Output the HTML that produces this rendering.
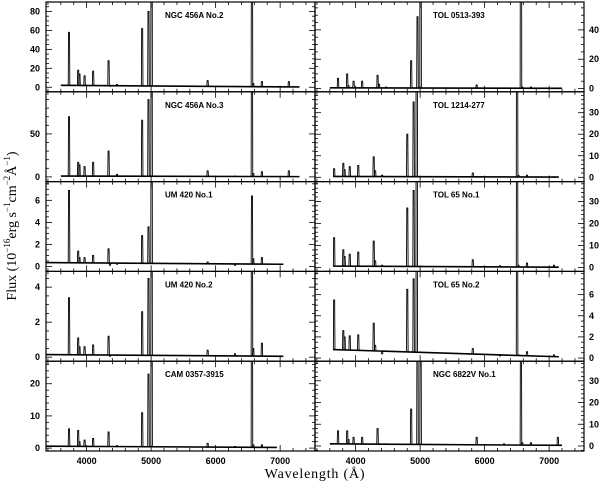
<!DOCTYPE html>
<html><head><meta charset="utf-8"><style>
body{margin:0;background:#fff}
svg{display:block}
.tl{font-family:"Liberation Sans",sans-serif;font-weight:bold;font-size:9px;fill:#000}
.tt{font-family:"Liberation Sans",sans-serif;font-weight:bold;font-size:8px;fill:#000}
.ax{font-family:"Liberation Serif",serif;font-size:14px;fill:#000}
</style></head><body>
<svg id="chart" width="600" height="486" viewBox="0 0 600 486" xmlns="http://www.w3.org/2000/svg">
<text class="ax" x="315" y="478" text-anchor="middle" letter-spacing="0.8">Wavelength (Å)</text>
<text class="ax" transform="translate(16,226) rotate(-90)" text-anchor="middle">Flux (10<tspan font-size="9" dy="-6">−16</tspan><tspan dy="6">erg s</tspan><tspan font-size="9" dy="-6">−1</tspan><tspan dy="6">cm</tspan><tspan font-size="9" dy="-6">−2</tspan><tspan dy="6">Å</tspan><tspan font-size="9" dy="-6">−1</tspan><tspan dy="6">)</tspan></text>
</svg>
<script>
const lineWaves=[3727,3869,3889,3968,4101,4340,4363,4471,4861,4959,5007,5876,6300,6563,6584,6717,7135];
const panelNames=["NGC 456A No.2","NGC 456A No.3","UM 420 No.1","UM 420 No.2","CAM 0357-3915","TOL 0513-393","TOL 1214-277","TOL 65 No.1","TOL 65 No.2","NGC 6822V No.1"];
const yMins=[-4.8,-5.5,-0.45,-0.23,-0.9,-2.2,-2,-1.8,-0.3,-2.3];
const yMaxs=[90,99,7.7,4.9,27,59,39.7,39,8.2,39];
const yTicks=[[0,20,40,60,80],[0,50],[0,2,4,6],[0,2,4],[0,10,20],[0,20,40],[0,10,20,30],[0,10,20,30],[0,2,4,6],[0,10,20,30]];
const yMinor=[5,10,0.5,0.5,2,5,2,2,0.5,2];
const shifts=[0,0,0,0,0,0,-60,-60,-60,0];
const wStart=[3600,3600,3370,3370,3370,3600,3650,3650,3650,3600];
const wEnd=[7300,7300,7050,7050,6950,7200,7150,7150,7150,7200];
const contStart=[2,1,0.35,0.15,0.6,0.5,0.4,0.6,0.8,1];
const contEnd=[0.3,0.3,0.2,0.05,0.2,0.2,0.1,0.1,0.12,0.3];
const h=[
[58,18,14,12,17,28,1,3,62,80,200,7,1,200,4,6,6],
[70,17,14,12,17,30,1,3,66,90,200,7,1,200,4,6,7],
[6.9,1.4,0.8,0.8,1.0,1.6,0.1,0.2,2.8,3.6,20,0.4,0.1,6.4,0.7,0.8,0.1],
[3.4,1.1,0.6,0.6,0.7,1.2,0.05,0.1,2.6,4.5,10,0.4,0.2,10,0.5,0.8,0.1],
[6,5.5,2,2.5,3,5,0.5,0.8,11,23,60,1.5,0.5,60,1,1,0.3],
[7,10,2,5,5,9,3,1,19,49,200,2.5,0.5,200,1,1,0.5],
[4,6.5,3.5,5,5.5,9.5,3,1,20,35,100,2,0.3,100,1,1,0.3],
[13.5,8,5,6,7,12,3,1,27,35,100,3.5,0.8,100,1,2,1],
[5.5,2.6,2,2.1,2.2,3.3,1.2,0.4,6.5,7.5,20,0.9,0.2,20,0.3,0.6,0.3],
[7,7,3,4,4,8,1,1,17,60,60,4,1,60,1.5,1.5,4]];
const svg=document.getElementById('chart');
const NS='http://www.w3.org/2000/svg';
const W0=3370,SC=0.0645,PW=269,PH=89.8,TOP=2;
function mk(t,a,p){const e=document.createElementNS(NS,t);for(const k in a)e.setAttribute(k,a[k]);(p||svg).appendChild(e);return e;}
const defs=mk('defs',{});
for(let i=0;i<10;i++){
 const col=i<5?0:1,row=i%5;
 const L=col?315:46,T=TOP+row*PH,B=T+PH;
 const xs=w=>L+(w-W0)*SC;
 const ys=v=>B-(v-yMins[i])/(yMaxs[i]-yMins[i])*PH;
 const cp=mk('clipPath',{id:'c'+i},defs);mk('rect',{x:L,y:T,width:PW,height:PH},cp);
 const g=mk('g',{'clip-path':'url(#c'+i+')'});
 
 
 const cont=w=>contStart[i]+(contEnd[i]-contStart[i])*(w-wStart[i])/(wEnd[i]-wStart[i]);
 const cl=mk('line',{x1:xs(wStart[i]),y1:ys(cont(wStart[i])),x2:xs(wEnd[i]),y2:ys(cont(wEnd[i])),stroke:'#000','stroke-width':1.6},g);
 
 
 lineWaves.forEach((w,j)=>{const ww=w+shifts[i];if(ww<wStart[i]||ww>wEnd[i])return;
  const x=xs(ww),y0=ys(cont(ww)),y1=ys(h[i][j]);
  const p=mk('path',{d:`M${x-0.8},${y0}L${x-0.5},${y1}L${x+0.5},${y1}L${x+0.8},${y0}`,fill:'none',stroke:'#000','stroke-width':0.9},g);
  
  });
 const fr=mk('rect',{x:L,y:T,width:PW,height:PH,fill:'none',stroke:'#000','stroke-width':1.2});
 
 
 for(let w=3400;w<=7500;w+=200){const x=xs(w);if(x<L||x>L+PW)continue;const len=w%1000===0?6:3;
  mk('line',{x1:x,y1:B,x2:x,y2:B-len,stroke:'#000','stroke-width':0.8});mk('line',{x1:x,y1:T,x2:x,y2:T+len,stroke:'#000','stroke-width':0.8});
  if(row===4&&w%1000===0){const t=mk('text',{x:x,y:B+13,'text-anchor':'middle',class:'tl'});t.textContent=w;
   
   }}
 const m=yMinor[i];
 for(let v=Math.ceil(yMins[i]/m)*m;v<=yMaxs[i];v+=m){const y=ys(v);const maj=yTicks[i].some(t=>Math.abs(t-v)<1e-6);const len=maj?6:3;
  mk('line',{x1:L,y1:y,x2:L+len,y2:y,stroke:'#000','stroke-width':0.8});mk('line',{x1:L+PW,y1:y,x2:L+PW-len,y2:y,stroke:'#000','stroke-width':0.8});}
 yTicks[i].forEach(v=>{const t=mk('text',{x:col?L+PW+5:L-6,y:ys(v)+3,'text-anchor':col?'start':'end',class:'tl'});t.textContent=v;
  
  });
 const tt=mk('text',{x:col?433:165,y:T+16,class:'tt'});tt.textContent=panelNames[i];
 
 
}
</script>
</body></html>
